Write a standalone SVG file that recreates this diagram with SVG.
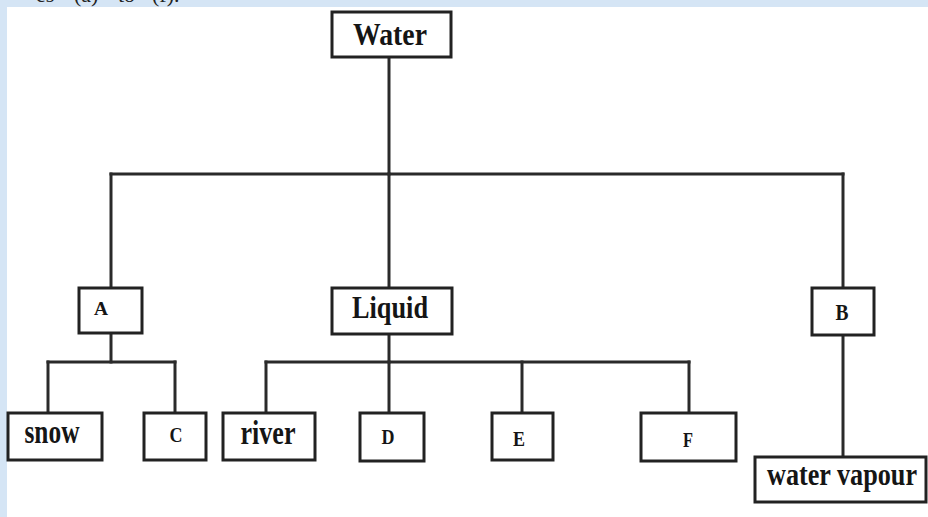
<svg xmlns="http://www.w3.org/2000/svg" width="928" height="517" viewBox="0 0 928 517">
  <style>
    .box { fill: #ffffff; stroke: #222222; stroke-width: 3; }
    .lbl { font-family: "Liberation Serif", "Times New Roman", serif; font-weight: bold; fill: #151515; text-anchor: middle; }
    .wire { fill: none; stroke: #2a2a2a; stroke-width: 3; stroke-linecap: square; }
    .cap { font-family: "Liberation Serif", "Times New Roman", serif; fill: #222222; font-size: 22px; }
  </style>
  <rect x="0" y="0" width="928" height="517" fill="#d5e5f5"/>
  <rect x="7" y="7" width="921" height="510" fill="#ffffff"/>
  <text class="cap" y="2"><tspan x="36">es</tspan><tspan x="74">(a)</tspan><tspan x="118">to</tspan><tspan x="152">(f).</tspan></text>

  <g id="connectors">
    <path class="wire" d="M389 57 V174"/>
    <path class="wire" d="M111 174 H843"/>
    <path class="wire" d="M111 174 V288"/>
    <path class="wire" d="M389 174 V288"/>
    <path class="wire" d="M843 174 V288"/>
    <path class="wire" d="M111 333 V362"/>
    <path class="wire" d="M48 362 H175"/>
    <path class="wire" d="M48 362 V413"/>
    <path class="wire" d="M175 362 V413"/>
    <path class="wire" d="M389 334 V362"/>
    <path class="wire" d="M266 362 H689"/>
    <path class="wire" d="M266 362 V413"/>
    <path class="wire" d="M389 362 V413"/>
    <path class="wire" d="M522 362 V413"/>
    <path class="wire" d="M689 362 V413"/>
    <path class="wire" d="M843 335 V457"/>
  </g>

  <g id="node-water">
    <rect class="box" x="332" y="12" width="119" height="45"/>
    <text class="lbl" x="390" y="45" font-size="32" textLength="74" lengthAdjust="spacingAndGlyphs">Water</text>
  </g>
  <g id="node-a">
    <rect class="box" x="79" y="288" width="63" height="45"/>
    <text class="lbl" x="101" y="315" font-size="18" textLength="14" lengthAdjust="spacingAndGlyphs">A</text>
  </g>
  <g id="node-liquid">
    <rect class="box" x="332" y="288" width="120" height="46"/>
    <text class="lbl" x="390" y="318" font-size="32" textLength="76" lengthAdjust="spacingAndGlyphs">Liquid</text>
  </g>
  <g id="node-b">
    <rect class="box" x="812" y="288" width="62" height="47"/>
    <text class="lbl" x="842" y="320" font-size="24" textLength="13" lengthAdjust="spacingAndGlyphs">B</text>
  </g>
  <g id="node-snow">
    <rect class="box" x="8" y="413" width="94" height="47"/>
    <text class="lbl" x="52" y="443" font-size="34" textLength="55" lengthAdjust="spacingAndGlyphs">snow</text>
  </g>
  <g id="node-c">
    <rect class="box" x="144" y="413" width="62" height="47"/>
    <text class="lbl" x="176" y="442" font-size="22" textLength="13" lengthAdjust="spacingAndGlyphs">C</text>
  </g>
  <g id="node-river">
    <rect class="box" x="223" y="413" width="92" height="47"/>
    <text class="lbl" x="268" y="444" font-size="34" textLength="55" lengthAdjust="spacingAndGlyphs">river</text>
  </g>
  <g id="node-d">
    <rect class="box" x="360" y="413" width="64" height="48"/>
    <text class="lbl" x="388" y="444" font-size="21" textLength="13" lengthAdjust="spacingAndGlyphs">D</text>
  </g>
  <g id="node-e">
    <rect class="box" x="492" y="413" width="61" height="47"/>
    <text class="lbl" x="519" y="446" font-size="21" textLength="12" lengthAdjust="spacingAndGlyphs">E</text>
  </g>
  <g id="node-f">
    <rect class="box" x="641" y="413" width="95" height="48"/>
    <text class="lbl" x="688" y="447" font-size="21" textLength="10" lengthAdjust="spacingAndGlyphs">F</text>
  </g>
  <g id="node-water-vapour">
    <rect class="box" x="755" y="457" width="171" height="45"/>
    <text class="lbl" x="842" y="485" font-size="32" textLength="150" lengthAdjust="spacingAndGlyphs">water vapour</text>
  </g>
</svg>
